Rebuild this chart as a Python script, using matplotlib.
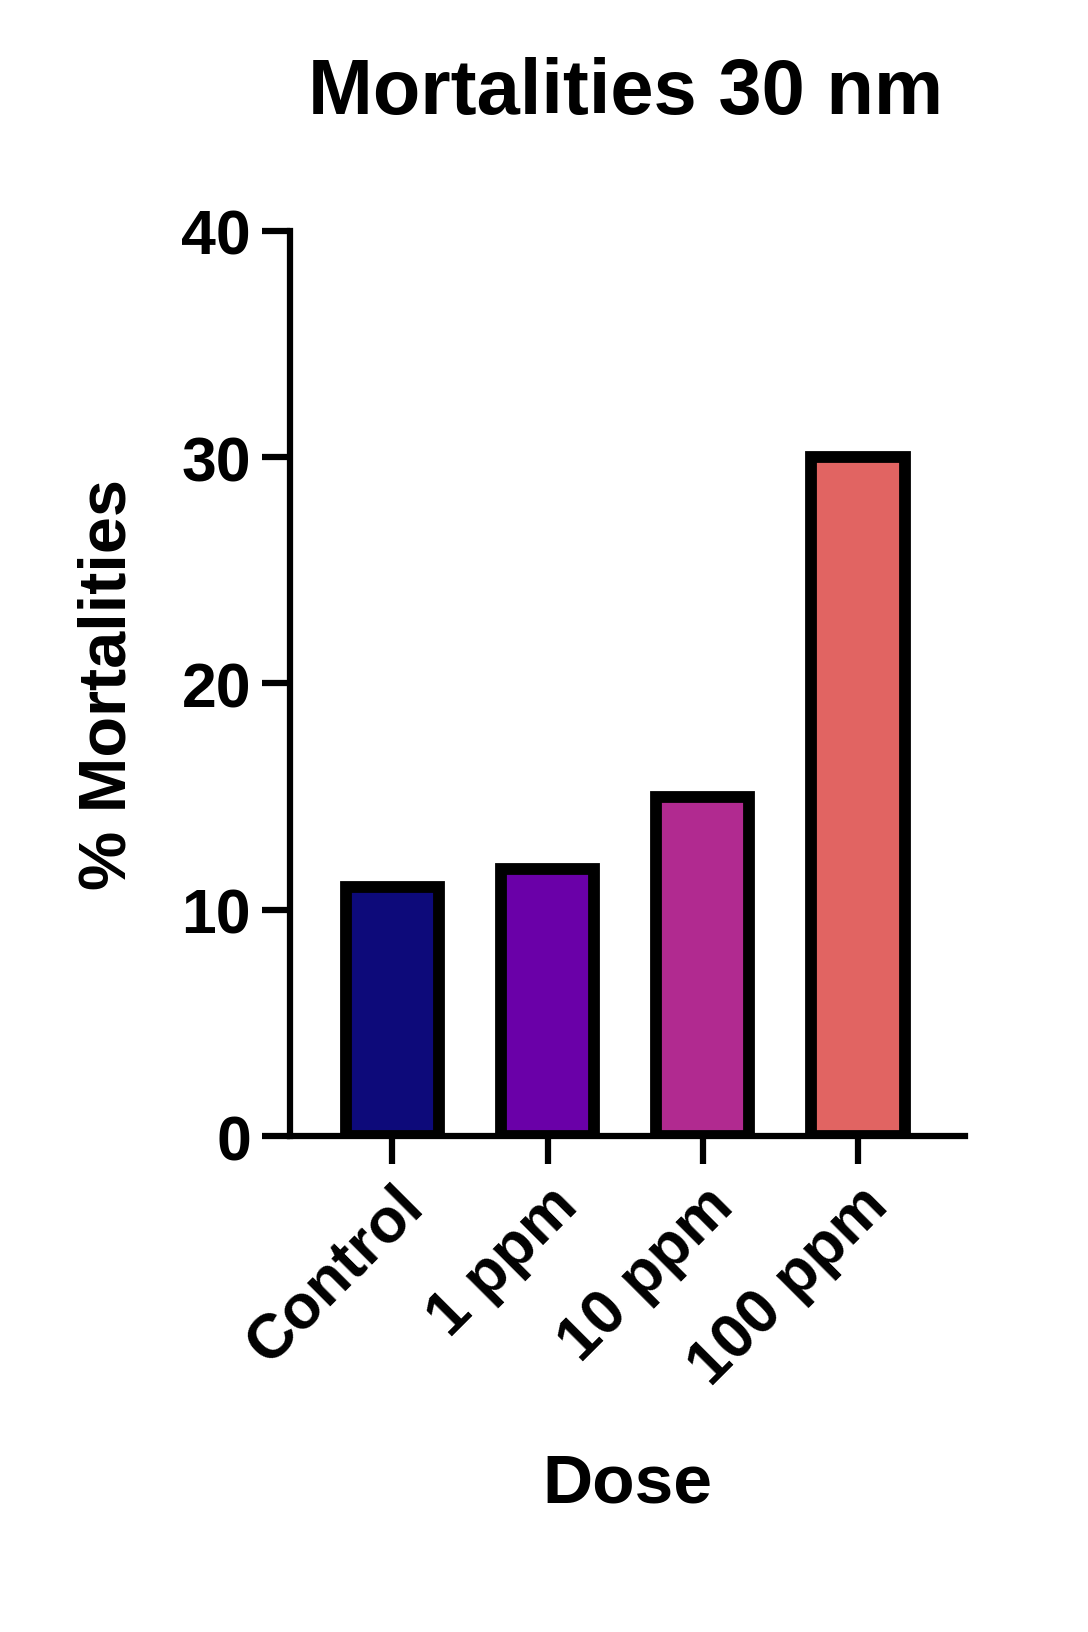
import matplotlib
matplotlib.use("Agg")
import matplotlib.pyplot as plt

categories = ["Control", "1 ppm", "10 ppm", "100 ppm"]
values = [11, 11.8, 15, 30]
colors = ["#0d0a7a", "#6a00a8", "#b12a90", "#e16462"]

plt.rcParams['font.family'] = ['Liberation Sans', 'DejaVu Sans']
plt.rcParams['font.weight'] = 'bold'

fig = plt.figure(figsize=(10.88, 16.33), dpi=100)
ax = fig.add_axes([0.2665, 0.3037, 0.887 - 0.2665, 0.858 - 0.3037])
ax.bar(range(len(categories)), values, width=0.6, color=colors,
       edgecolor="black", linewidth=8.5)
ax.set_xlim(-0.66, 3.69)
ax.set_ylim(0, 40)
ax.set_yticks([0, 10, 20, 30, 40])
ax.set_xticks(range(len(categories)))
ax.set_xticklabels(categories, rotation=45, ha="right", rotation_mode="anchor")
for s in ["top", "right"]:
    ax.spines[s].set_visible(False)
for s in ["left", "bottom"]:
    ax.spines[s].set_linewidth(4.5)
ax.tick_params(width=4.5, length=20, labelsize=45, pad=8)
ax.set_ylabel("% Mortalities", fontsize=48, fontweight="bold", labelpad=30)
ax.set_xlabel("Dose", fontsize=50, fontweight="bold", labelpad=40)
fig.text(0.575, 0.93, "Mortalities 30 nm", fontsize=56, fontweight="bold", ha="center")
fig.savefig("out.png", dpi=100)
